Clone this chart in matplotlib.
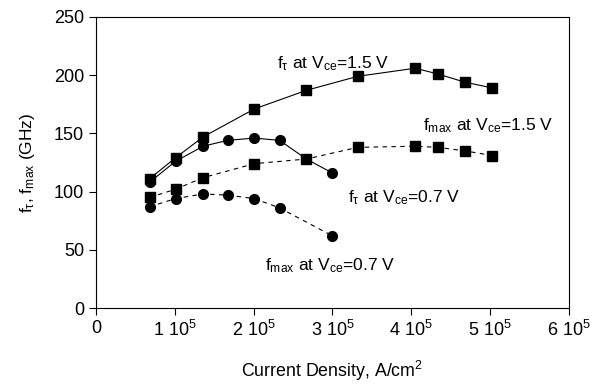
import matplotlib
matplotlib.use("Agg")
import matplotlib.pyplot as plt

plt.rcParams["font.family"] = ["Liberation Sans", "DejaVu Sans"]
plt.rcParams["mathtext.fontset"] = "custom"
plt.rcParams["mathtext.rm"] = "Liberation Sans"
plt.rcParams["mathtext.it"] = "Liberation Sans"
plt.rcParams["mathtext.default"] = "regular"

# current density (A/cm^2)
j_15 = [0.68e5, 1.01e5, 1.36e5, 2.01e5, 2.67e5, 3.32e5, 4.05e5, 4.34e5, 4.68e5, 5.03e5]
ft_15 = [111, 129, 147, 171, 187, 199, 206, 201, 194, 189]
fmax_15 = [95, 102, 112, 124, 128, 138, 139, 138, 135, 131]

j_07 = [0.68e5, 1.01e5, 1.36e5, 1.67e5, 2.01e5, 2.33e5, 2.67e5, 3.0e5]
ft_07 = [108, 126, 139, 144, 146, 144, 128, 116]
j_07m = [0.68e5, 1.01e5, 1.36e5, 1.67e5, 2.01e5, 2.33e5, 3.0e5]
fmax_07 = [87, 94, 98, 97, 94, 86, 62]

xticks = [0, 1e5, 2e5, 3e5, 4e5, 5e5, 6e5]
xticklabels = ["0"] + [f"{i} 10$^5$" for i in range(1, 7)]

fig = plt.figure(figsize=(5.92, 3.86), dpi=100)
ax = fig.add_axes([0.162, 0.202, 0.799, 0.754])

ax.plot(j_15, ft_15, "-", color="k", lw=0.8, marker="s", ms=7.5, zorder=4)
ax.plot(j_15, fmax_15, "--", color="k", lw=0.8, marker="s", ms=7.5, dashes=(4, 4), zorder=4)
ax.plot(j_07, ft_07, "-", color="k", lw=0.8, marker="o", ms=7, zorder=3)
ax.plot(j_07m, fmax_07, "--", color="k", lw=0.8, marker="o", ms=7, dashes=(4, 4), zorder=3)

fs = 12.5
ax.text(2.3e5, 206, r"f$_\tau$ at V$_{ce}$=1.5 V", fontsize=fs)
ax.text(4.15e5, 153, r"f$_{max}$ at V$_{ce}$=1.5 V", fontsize=fs)
ax.text(3.2e5, 91, r"f$_\tau$ at V$_{ce}$=0.7 V", fontsize=fs)
ax.text(2.15e5, 32, r"f$_{max}$ at V$_{ce}$=0.7 V", fontsize=fs)

ax.set_xlim(0, 6e5)
ax.set_ylim(0, 250)
ax.set_xticks(xticks)
ax.set_xticklabels(xticklabels)
ax.set_yticks([0, 50, 100, 150, 200, 250])
ax.tick_params(direction="out", length=5, width=0.8, labelsize=13)
for s in ax.spines.values():
    s.set_linewidth(0.8)

ax.set_xlabel("Current Density, A/cm$^2$", fontsize=12.8, labelpad=14)
ax.set_ylabel(r"f$_\tau$, f$_{max}$ (GHz)", fontsize=12.5, labelpad=12)

fig.savefig("out.png", dpi=100)
